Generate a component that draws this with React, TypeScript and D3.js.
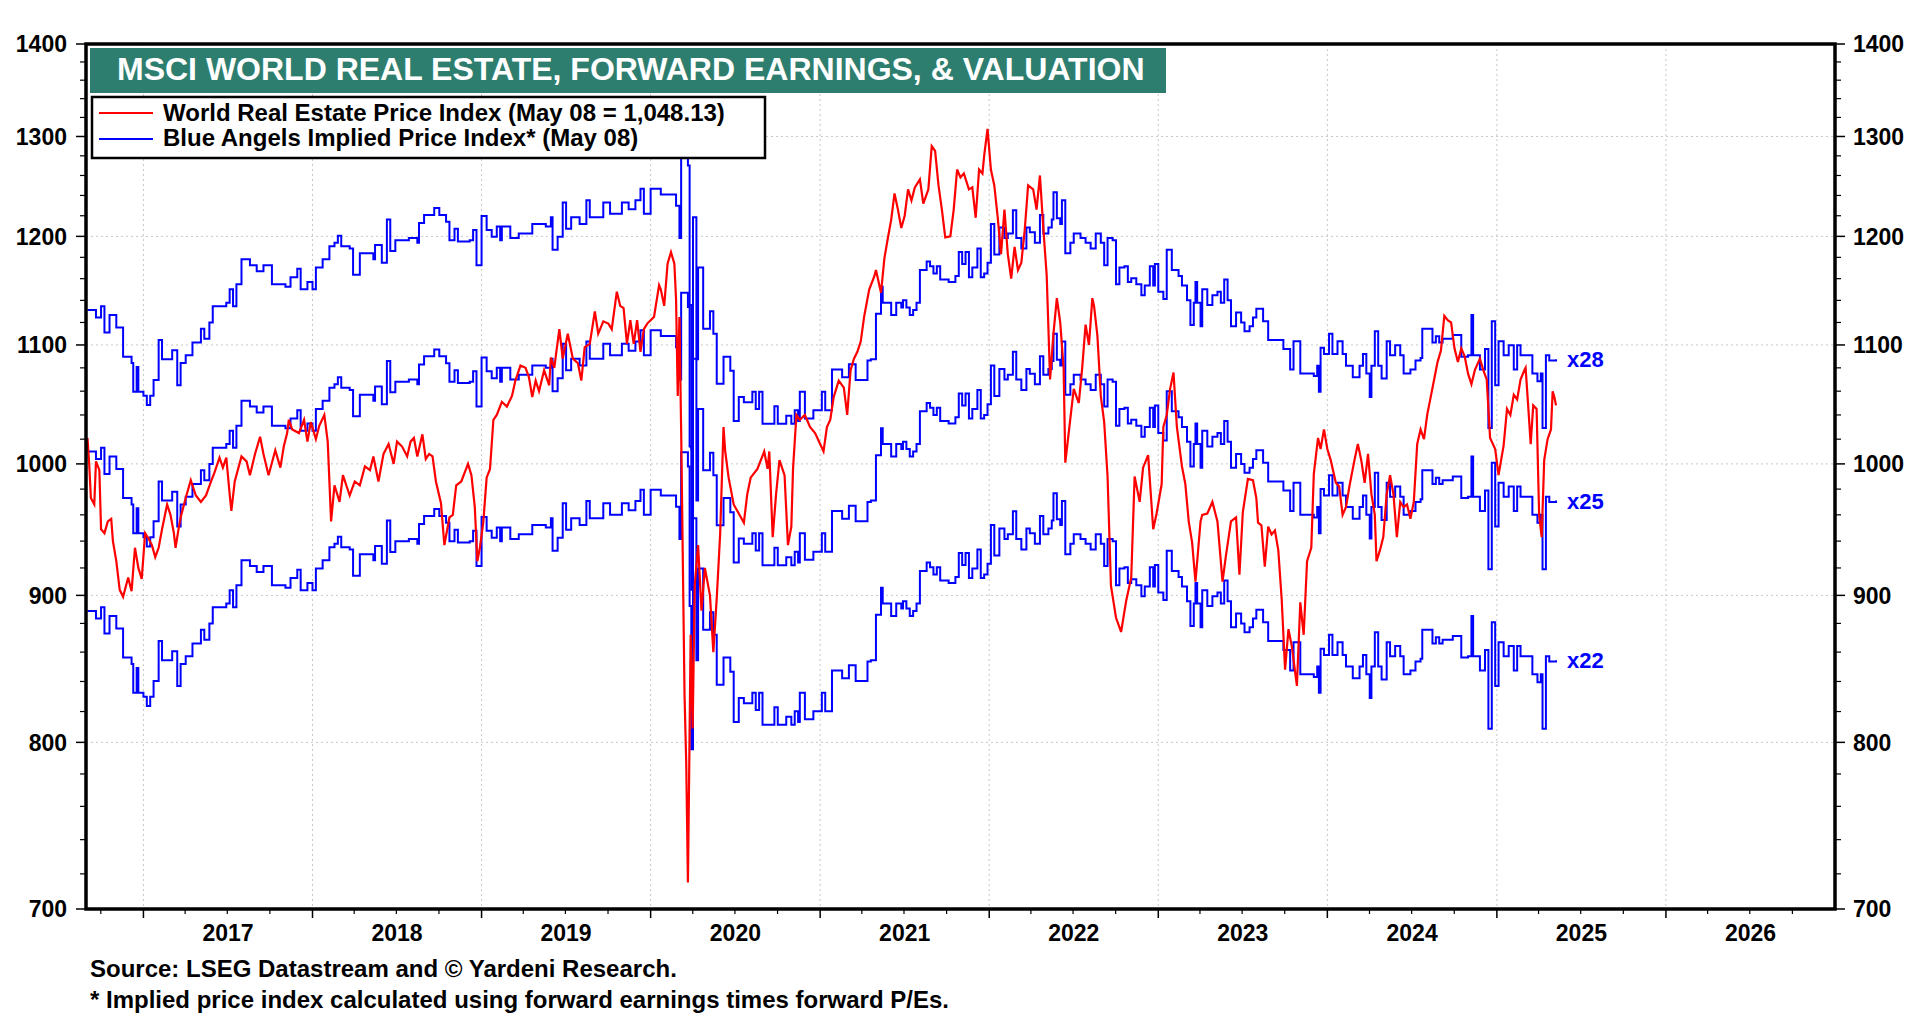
import React from 'react';
import * as d3 from 'd3';

// decimal year, value
const yearLabels = ['2017', '2018', '2019', '2020', '2021', '2022', '2023', '2024', '2025', '2026'];
const yTickValues = [700, 800, 900, 1000, 1100, 1200, 1300, 1400];
const peMultiples = [22, 25, 28];

// forward earnings (weekly), implied price = forward earnings x P/E
const forwardEarnings: [number, number][] = [
	[2016.67, 40.40], [2016.72, 40.16], [2016.75, 40.52], [2016.77, 39.68], [2016.80, 40.24], [2016.84, 39.84],
	[2016.88, 38.92], [2016.93, 38.72], [2016.94, 37.84], [2016.96, 38.60], [2016.97, 37.84], [2017.00, 37.72],
	[2017.02, 37.44], [2017.04, 37.72], [2017.06, 38.20], [2017.09, 39.44], [2017.11, 38.84], [2017.17, 39.12],
	[2017.20, 38.04], [2017.22, 38.72], [2017.25, 38.96], [2017.29, 39.36], [2017.34, 39.80], [2017.36, 39.48],
	[2017.39, 40.00], [2017.41, 40.52], [2017.49, 40.64], [2017.51, 41.08], [2017.53, 40.52], [2017.55, 41.24],
	[2017.58, 42.08], [2017.63, 41.88], [2017.67, 41.68], [2017.71, 41.88], [2017.76, 41.24], [2017.84, 41.16],
	[2017.87, 41.48], [2017.91, 41.76], [2017.93, 41.08], [2017.97, 41.32], [2018.00, 41.08], [2018.02, 41.80],
	[2018.06, 42.08], [2018.10, 42.52], [2018.13, 42.64], [2018.15, 42.88], [2018.17, 42.52], [2018.22, 42.44],
	[2018.24, 41.56], [2018.28, 42.28], [2018.36, 42.08], [2018.37, 42.56], [2018.41, 41.96], [2018.44, 43.44],
	[2018.46, 42.36], [2018.49, 42.72], [2018.57, 42.80], [2018.62, 42.64], [2018.63, 43.32], [2018.66, 43.60],
	[2018.72, 43.84], [2018.75, 43.60], [2018.79, 43.36], [2018.81, 42.72], [2018.84, 43.12], [2018.86, 42.68],
	[2018.93, 42.72], [2018.95, 43.08], [2018.97, 41.88], [2019.00, 43.56], [2019.03, 43.08], [2019.06, 42.84],
	[2019.09, 43.20], [2019.11, 42.72], [2019.12, 43.20], [2019.17, 42.80], [2019.22, 42.96], [2019.30, 43.28],
	[2019.38, 43.20], [2019.41, 43.52], [2019.42, 42.40], [2019.45, 42.84], [2019.48, 44.04], [2019.50, 43.12],
	[2019.53, 43.52], [2019.58, 43.28], [2019.62, 44.12], [2019.64, 43.52], [2019.72, 44.04], [2019.76, 43.64],
	[2019.83, 44.04], [2019.87, 43.80], [2019.91, 44.12], [2019.94, 44.52], [2019.96, 43.64], [2020.00, 44.52],
	[2020.06, 44.32], [2020.13, 44.32], [2020.15, 43.92], [2020.17, 42.80], [2020.18, 45.88], [2020.22, 45.36],
	[2020.23, 40.56], [2020.24, 36.16], [2020.25, 43.52], [2020.27, 38.84], [2020.28, 41.80], [2020.31, 39.80],
	[2020.35, 40.36], [2020.37, 39.64], [2020.39, 38.08], [2020.43, 38.92], [2020.47, 38.48], [2020.49, 36.96],
	[2020.52, 37.68], [2020.55, 37.52], [2020.60, 37.84], [2020.62, 37.32], [2020.64, 37.84], [2020.66, 36.88],
	[2020.70, 36.88], [2020.73, 37.40], [2020.75, 36.88], [2020.80, 37.12], [2020.83, 36.88], [2020.85, 37.28],
	[2020.87, 36.96], [2020.88, 37.84], [2020.91, 37.04], [2020.96, 37.28], [2021.01, 37.84], [2021.03, 37.28],
	[2021.07, 38.52], [2021.13, 38.28], [2021.17, 38.68], [2021.21, 38.20], [2021.28, 38.80], [2021.30, 38.84],
	[2021.33, 40.28], [2021.36, 41.16], [2021.37, 40.64], [2021.42, 40.24], [2021.45, 40.64], [2021.48, 40.48],
	[2021.49, 40.72], [2021.51, 40.48], [2021.53, 40.24], [2021.55, 40.40], [2021.57, 40.64], [2021.59, 41.72],
	[2021.63, 42.00], [2021.65, 41.84], [2021.67, 41.60], [2021.69, 41.84], [2021.71, 41.40], [2021.76, 41.32],
	[2021.80, 41.52], [2021.82, 42.32], [2021.84, 41.92], [2021.86, 42.32], [2021.88, 41.48], [2021.90, 41.80],
	[2021.93, 42.44], [2021.95, 41.48], [2021.97, 41.60], [2021.99, 41.96], [2022.01, 43.28], [2022.03, 42.24],
	[2022.06, 43.16], [2022.09, 42.80], [2022.11, 42.96], [2022.14, 43.76], [2022.16, 42.80], [2022.19, 42.44],
	[2022.22, 43.16], [2022.24, 43.00], [2022.27, 42.64], [2022.30, 43.60], [2022.32, 42.96], [2022.35, 43.16],
	[2022.37, 43.44], [2022.38, 44.40], [2022.40, 43.48], [2022.42, 43.28], [2022.43, 44.12], [2022.45, 42.28],
	[2022.48, 42.64], [2022.50, 42.96], [2022.54, 42.80], [2022.57, 42.64], [2022.60, 42.44], [2022.63, 42.96],
	[2022.66, 42.64], [2022.68, 41.88], [2022.70, 42.80], [2022.73, 42.72], [2022.75, 41.24], [2022.77, 41.80],
	[2022.80, 41.84], [2022.82, 41.32], [2022.84, 41.44], [2022.87, 41.24], [2022.90, 40.88], [2022.92, 41.20],
	[2022.95, 41.84], [2022.97, 41.20], [2022.98, 41.92], [2023.00, 41.00], [2023.03, 40.76], [2023.05, 42.40],
	[2023.08, 41.72], [2023.12, 41.52], [2023.14, 41.20], [2023.17, 40.72], [2023.19, 39.92], [2023.21, 40.64],
	[2023.22, 41.32], [2023.23, 40.64], [2023.25, 39.88], [2023.26, 41.08], [2023.29, 40.56], [2023.32, 40.88],
	[2023.35, 41.00], [2023.37, 40.64], [2023.39, 41.40], [2023.41, 40.72], [2023.43, 39.88], [2023.46, 40.32],
	[2023.49, 40.00], [2023.51, 39.72], [2023.54, 39.88], [2023.56, 40.16], [2023.58, 40.44], [2023.62, 40.04],
	[2023.65, 39.44], [2023.74, 39.16], [2023.78, 38.52], [2023.80, 39.40], [2023.84, 38.40], [2023.92, 38.32],
	[2023.94, 38.64], [2023.95, 37.84], [2023.96, 39.20], [2023.98, 39.00], [2024.01, 39.64], [2024.03, 39.00],
	[2024.06, 39.40], [2024.09, 39.00], [2024.11, 38.64], [2024.15, 38.28], [2024.19, 38.64], [2024.21, 39.00],
	[2024.23, 38.40], [2024.25, 37.68], [2024.26, 38.64], [2024.28, 39.72], [2024.30, 38.64], [2024.32, 38.24],
	[2024.35, 39.40], [2024.37, 38.96], [2024.40, 39.28], [2024.43, 38.96], [2024.45, 38.40], [2024.49, 38.52],
	[2024.52, 38.80], [2024.55, 38.88], [2024.56, 39.80], [2024.62, 39.36], [2024.64, 39.56], [2024.66, 39.36],
	[2024.68, 39.48], [2024.74, 39.60], [2024.79, 38.92], [2024.83, 38.96], [2024.85, 40.24], [2024.86, 38.96],
	[2024.90, 38.52], [2024.93, 39.16], [2024.95, 36.76], [2024.97, 40.04], [2024.99, 38.04], [2025.01, 39.40],
	[2025.04, 38.96], [2025.07, 39.28], [2025.10, 38.52], [2025.12, 39.28], [2025.14, 38.96], [2025.21, 38.40],
	[2025.24, 38.16], [2025.26, 38.40], [2025.27, 36.76], [2025.29, 38.96], [2025.31, 38.80], [2025.35, 38.84],
];

const realEstateIndex: [number, number][] = [
	[2016.67, 1021], [2016.68, 1000], [2016.69, 973], [2016.71, 968], [2016.72, 1002], [2016.74, 995], [2016.75, 949],
	[2016.77, 946], [2016.79, 955], [2016.81, 957], [2016.82, 940], [2016.84, 925], [2016.86, 904], [2016.88, 899],
	[2016.91, 913], [2016.93, 903], [2016.95, 935], [2016.97, 920], [2016.99, 912], [2017.01, 946], [2017.03, 942],
	[2017.05, 937], [2017.07, 928], [2017.09, 935], [2017.11, 949], [2017.14, 968], [2017.16, 960], [2017.18, 946],
	[2017.19, 935], [2017.21, 951], [2017.22, 958], [2017.25, 973], [2017.28, 987], [2017.31, 975], [2017.34, 970],
	[2017.37, 975], [2017.40, 986], [2017.42, 993], [2017.45, 1005], [2017.47, 997], [2017.49, 1005], [2017.51, 976],
	[2017.52, 963], [2017.54, 986], [2017.58, 1006], [2017.61, 1002], [2017.63, 991], [2017.66, 1008], [2017.69, 1022],
	[2017.71, 1008], [2017.74, 991], [2017.78, 1011], [2017.81, 997], [2017.83, 1014], [2017.85, 1025], [2017.86, 1036],
	[2017.88, 1028], [2017.92, 1025], [2017.95, 1036], [2017.97, 1018], [2017.99, 1034], [2018.02, 1020], [2018.04, 1031],
	[2018.07, 1040], [2018.09, 1018], [2018.11, 955], [2018.13, 983], [2018.16, 970], [2018.18, 991], [2018.22, 975],
	[2018.25, 986], [2018.28, 983], [2018.31, 998], [2018.34, 995], [2018.36, 1006], [2018.39, 986], [2018.42, 1008],
	[2018.45, 1016], [2018.48, 1000], [2018.50, 1018], [2018.53, 1014], [2018.56, 1006], [2018.58, 1018], [2018.60, 1021],
	[2018.62, 1006], [2018.65, 1024], [2018.67, 1004], [2018.69, 1008], [2018.71, 1006], [2018.73, 986], [2018.76, 969],
	[2018.78, 937], [2018.81, 958], [2018.83, 960], [2018.85, 983], [2018.88, 986], [2018.90, 993], [2018.92, 1000],
	[2018.94, 991], [2018.96, 966], [2018.975, 925], [2018.99, 935], [2019.01, 954], [2019.03, 989], [2019.05, 996],
	[2019.07, 1036], [2019.09, 1040], [2019.12, 1051], [2019.15, 1047], [2019.18, 1056], [2019.20, 1069], [2019.23, 1082],
	[2019.26, 1080], [2019.28, 1072], [2019.30, 1055], [2019.32, 1069], [2019.34, 1060], [2019.37, 1078], [2019.40, 1065],
	[2019.41, 1089], [2019.43, 1080], [2019.46, 1114], [2019.48, 1088], [2019.51, 1110], [2019.54, 1088], [2019.57, 1084],
	[2019.59, 1069], [2019.61, 1098], [2019.64, 1101], [2019.67, 1130], [2019.69, 1110], [2019.72, 1121], [2019.75, 1119],
	[2019.77, 1114], [2019.80, 1148], [2019.82, 1135], [2019.84, 1133], [2019.86, 1101], [2019.88, 1122], [2019.90, 1101],
	[2019.92, 1122], [2019.94, 1094], [2019.96, 1114], [2019.98, 1119], [2020.00, 1122], [2020.02, 1125], [2020.05, 1154],
	[2020.06, 1150], [2020.08, 1135], [2020.10, 1174], [2020.12, 1185], [2020.14, 1174], [2020.15, 1141], [2020.16, 1056],
	[2020.17, 1125], [2020.18, 1028], [2020.19, 925], [2020.20, 831], [2020.21, 787], [2020.22, 715], [2020.228, 787],
	[2020.236, 872], [2020.248, 809], [2020.26, 907], [2020.28, 937], [2020.30, 889], [2020.32, 920], [2020.35, 900],
	[2020.37, 860], [2020.39, 898], [2020.41, 945], [2020.43, 1030], [2020.44, 1010], [2020.46, 989], [2020.49, 968],
	[2020.52, 961], [2020.55, 954], [2020.57, 976], [2020.59, 989], [2020.63, 996], [2020.67, 1010], [2020.69, 996],
	[2020.70, 1010], [2020.72, 943], [2020.74, 976], [2020.76, 1003], [2020.79, 991], [2020.81, 937], [2020.83, 951],
	[2020.84, 996], [2020.86, 1040], [2020.88, 1036], [2020.91, 1040], [2020.94, 1030], [2020.97, 1025], [2021.00, 1016],
	[2021.02, 1010], [2021.04, 1030], [2021.06, 1036], [2021.08, 1055], [2021.11, 1069], [2021.14, 1063], [2021.16, 1040],
	[2021.18, 1078], [2021.20, 1088], [2021.22, 1094], [2021.24, 1103], [2021.26, 1125], [2021.29, 1150], [2021.32, 1162],
	[2021.33, 1168], [2021.36, 1147], [2021.38, 1179], [2021.40, 1198], [2021.42, 1216], [2021.44, 1242], [2021.46, 1226],
	[2021.48, 1208], [2021.50, 1220], [2021.52, 1246], [2021.54, 1235], [2021.56, 1248], [2021.59, 1256], [2021.61, 1232],
	[2021.64, 1246], [2021.66, 1290], [2021.68, 1285], [2021.70, 1250], [2021.72, 1226], [2021.74, 1199], [2021.77, 1200],
	[2021.79, 1226], [2021.81, 1266], [2021.83, 1258], [2021.85, 1262], [2021.88, 1246], [2021.90, 1248], [2021.92, 1218],
	[2021.94, 1266], [2021.96, 1262], [2021.97, 1280], [2021.99, 1308], [2022.01, 1266], [2022.03, 1250], [2022.05, 1219],
	[2022.07, 1183], [2022.09, 1226], [2022.11, 1183], [2022.13, 1160], [2022.15, 1190], [2022.17, 1168], [2022.19, 1175],
	[2022.21, 1206], [2022.23, 1250], [2022.26, 1246], [2022.28, 1226], [2022.30, 1260], [2022.32, 1208], [2022.34, 1163],
	[2022.36, 1070], [2022.38, 1110], [2022.40, 1142], [2022.42, 1120], [2022.44, 1080], [2022.45, 1001], [2022.47, 1025],
	[2022.50, 1062], [2022.53, 1050], [2022.55, 1080], [2022.57, 1118], [2022.59, 1100], [2022.61, 1142], [2022.62, 1135],
	[2022.64, 1108], [2022.66, 1056], [2022.68, 1034], [2022.70, 990], [2022.72, 907], [2022.75, 884], [2022.78, 874],
	[2022.81, 896], [2022.84, 913], [2022.86, 990], [2022.89, 970], [2022.91, 997], [2022.94, 1007], [2022.97, 949],
	[2022.99, 961], [2023.02, 984], [2023.03, 1030], [2023.05, 1040], [2023.07, 1062], [2023.09, 1076], [2023.11, 1030],
	[2023.14, 998], [2023.16, 984], [2023.18, 955], [2023.20, 939], [2023.22, 910], [2023.25, 955], [2023.26, 960],
	[2023.29, 961], [2023.32, 970], [2023.35, 955], [2023.38, 910], [2023.40, 929], [2023.43, 955], [2023.46, 958],
	[2023.48, 915], [2023.50, 962], [2023.53, 988], [2023.56, 987], [2023.58, 973], [2023.59, 954], [2023.61, 952],
	[2023.63, 921], [2023.65, 951], [2023.67, 945], [2023.69, 948], [2023.71, 933], [2023.73, 897], [2023.75, 848],
	[2023.77, 876], [2023.79, 864], [2023.82, 837], [2023.84, 895], [2023.86, 872], [2023.88, 925], [2023.905, 935],
	[2023.92, 992], [2023.945, 1021], [2023.96, 1012], [2023.98, 1028], [2024.00, 1012], [2024.02, 1003], [2024.05, 985],
	[2024.07, 982], [2024.09, 960], [2024.11, 966], [2024.13, 982], [2024.16, 1003], [2024.18, 1016], [2024.20, 1003],
	[2024.22, 985], [2024.24, 1008], [2024.26, 976], [2024.28, 960], [2024.29, 925], [2024.31, 933], [2024.33, 943],
	[2024.35, 976], [2024.37, 991], [2024.39, 976], [2024.41, 943], [2024.43, 970], [2024.45, 966], [2024.47, 968],
	[2024.49, 957], [2024.51, 970], [2024.53, 1016], [2024.55, 1028], [2024.57, 1020], [2024.59, 1041], [2024.60, 1048],
	[2024.63, 1070], [2024.65, 1085], [2024.67, 1095], [2024.69, 1126], [2024.71, 1122], [2024.73, 1120], [2024.75, 1097],
	[2024.77, 1085], [2024.79, 1097], [2024.81, 1090], [2024.83, 1075], [2024.85, 1066], [2024.87, 1078], [2024.90, 1088],
	[2024.92, 1078], [2024.94, 1070], [2024.96, 1021], [2024.99, 1012], [2025.01, 991], [2025.04, 1015], [2025.06, 1045],
	[2025.08, 1040], [2025.10, 1057], [2025.12, 1053], [2025.14, 1070], [2025.16, 1077], [2025.17, 1080], [2025.185, 1048],
	[2025.20, 1016], [2025.215, 1048], [2025.235, 1045], [2025.25, 960], [2025.265, 943], [2025.28, 1003], [2025.30, 1020],
	[2025.32, 1028], [2025.33, 1060], [2025.34, 1055], [2025.35, 1048],
];

const FONT = "'Liberation Sans', Arial, Helvetica, sans-serif";

function yearToDate(t: number) {
	const yr = Math.floor(t);
	const a = Date.UTC(yr, 0, 1);
	const b = Date.UTC(yr + 1, 0, 1);
	return new Date(a + (t - yr) * (b - a));
}

const App: React.FC = () => {
	const left = 86, right = 1835, top = 44, bottom = 909;

	const x = d3.scaleUtc()
		.domain([new Date(Date.UTC(2016, 7, 30)), new Date(Date.UTC(2027, 0, 1))])
		.range([left, right]);
	const y = d3.scaleLog().domain([700, 1400]).range([bottom, top]);

	const yearStarts = d3.utcYear.range(new Date(Date.UTC(2017, 0, 1)), new Date(Date.UTC(2027, 0, 1)));
	const quarterTicks = d3.utcMonth.every(3)!
		.range(new Date(Date.UTC(2016, 8, 1)), new Date(Date.UTC(2027, 0, 1)))
		.filter(d => d.getUTCMonth() !== 0);
	const yMinor = d3.range(720, 1400, 20).filter(v => v % 100 !== 0);

	const redLine = d3.line<[number, number]>()
		.x(d => x(yearToDate(d[0])))
		.y(d => y(d[1]));

	const blueLine = (mult: number) => d3.line<[number, number]>()
		.x(d => x(yearToDate(d[0])))
		.y(d => y(d[1] * mult))
		.curve(d3.curveStepAfter);

	const last = forwardEarnings[forwardEarnings.length - 1];

	return (
		<svg width={1920} height={1020} style={{ position: 'absolute', left: 0, top: 0, background: '#fff' }}
			fontFamily={FONT} fontWeight="bold">
			<rect x={0} y={0} width={1920} height={1020} fill="#fff" />

			{/* grid */}
			{yTickValues.filter(v => v > 700 && v < 1400).map(v => (
				<line key={'gy' + v} x1={left} x2={right} y1={y(v)} y2={y(v)} stroke="#c8c8c8" strokeWidth={1} strokeDasharray="2,3" />
			))}
			{yearStarts.map(d => (
				<line key={'gx' + d.getTime()} x1={x(d)} x2={x(d)} y1={top} y2={bottom} stroke="#c8c8c8" strokeWidth={1} strokeDasharray="2,3" />
			))}

			{/* series */}
			{peMultiples.map(m => (
				<path key={'pe' + m} d={blueLine(m)(forwardEarnings) ?? ''} fill="none" stroke="#0000ff" strokeWidth={2} />
			))}
			<path d={redLine(realEstateIndex) ?? ''} fill="none" stroke="#ff0000" strokeWidth={2.2} />

			{peMultiples.map(m => (
				<text key={'lbl' + m} x={x(yearToDate(last[0])) + 11} y={y(last[1] * m)} dy="0.36em"
					fontSize={22} fill="#0000ff">{'x' + m}</text>
			))}

			{/* frame */}
			<rect x={left} y={top} width={right - left} height={bottom - top} fill="none" stroke="#000" strokeWidth={3.5} />

			{/* y axes */}
			{yTickValues.map(v => (
				<g key={'yt' + v}>
					<line x1={left - 10} x2={left} y1={y(v)} y2={y(v)} stroke="#000" strokeWidth={1.5} />
					<line x1={right} x2={right + 10} y1={y(v)} y2={y(v)} stroke="#000" strokeWidth={1.5} />
					<text x={67} y={y(v)} dy="0.36em" textAnchor="end" fontSize={23} fill="#000">{v}</text>
					<text x={1853} y={y(v)} dy="0.36em" textAnchor="start" fontSize={23} fill="#000">{v}</text>
				</g>
			))}
			{yMinor.map(v => (
				<g key={'ym' + v}>
					<line x1={left - 6} x2={left} y1={y(v)} y2={y(v)} stroke="#000" strokeWidth={1.2} />
					<line x1={right} x2={right + 6} y1={y(v)} y2={y(v)} stroke="#000" strokeWidth={1.2} />
				</g>
			))}

			{/* x axis */}
			{yearStarts.map(d => (
				<line key={'xt' + d.getTime()} x1={x(d)} x2={x(d)} y1={bottom} y2={bottom + 9} stroke="#000" strokeWidth={1.5} />
			))}
			{quarterTicks.map(d => (
				<line key={'xq' + d.getTime()} x1={x(d)} x2={x(d)} y1={bottom} y2={bottom + 5} stroke="#000" strokeWidth={1.2} />
			))}
			{yearLabels.map(lbl => {
				const yr = +lbl;
				const cx = (x(new Date(Date.UTC(yr, 0, 1))) + x(new Date(Date.UTC(yr + 1, 0, 1)))) / 2;
				return <text key={'xl' + lbl} x={cx} y={941} textAnchor="middle" fontSize={23} fill="#000">{lbl}</text>;
			})}

			{/* title */}
			<rect x={90} y={48} width={1076} height={45} fill="#2e7e70" />
			<text x={117} y={80} fontSize={32} fill="#fff">MSCI WORLD REAL ESTATE, FORWARD EARNINGS, &amp; VALUATION</text>

			{/* legend */}
			<rect x={92} y={97} width={673} height={61} fill="#fff" stroke="#000" strokeWidth={2.5} />
			<line x1={99} x2={153} y1={113} y2={113} stroke="#ff0000" strokeWidth={2} />
			<line x1={99} x2={153} y1={139} y2={139} stroke="#0000ff" strokeWidth={2} />
			<text x={163} y={121} fontSize={24} fill="#000">World Real Estate Price Index (May 08 = 1,048.13)</text>
			<text x={163} y={146} fontSize={24} fill="#000">Blue Angels Implied Price Index* (May 08)</text>

			{/* notes */}
			<text x={90} y={977} fontSize={24} fill="#000">Source: LSEG Datastream and © Yardeni Research.</text>
			<text x={90} y={1008} fontSize={24} fill="#000">* Implied price index calculated using forward earnings times forward P/Es.</text>
		</svg>
	);
};

export default App;
